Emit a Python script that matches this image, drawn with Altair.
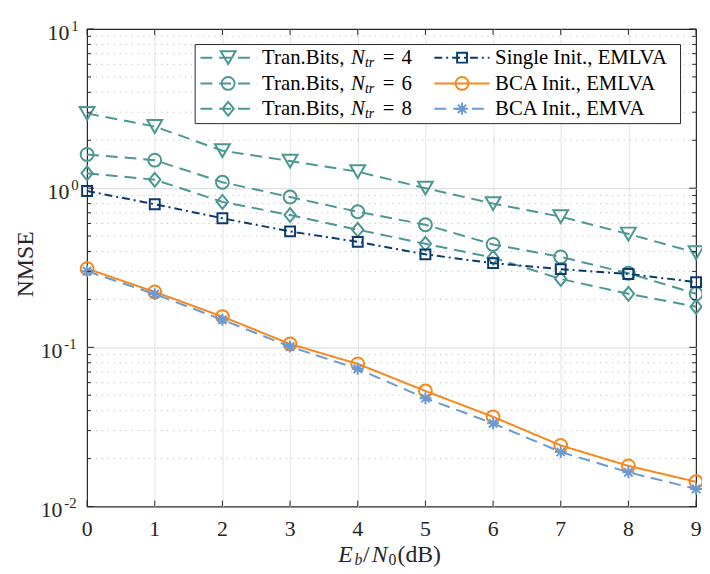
import altair as alt
import pandas as pd

# ---------------- data ----------------
snr = [0, 1, 2, 3, 4, 5, 6, 7, 8, 9]
nmse_tran4 = [2.95, 2.44, 1.72, 1.48, 1.27, 1.00, 0.80, 0.662, 0.515, 0.393]
nmse_tran6 = [1.63, 1.50, 1.09, 0.88, 0.711, 0.589, 0.443, 0.370, 0.292, 0.217]
nmse_tran8 = [1.24, 1.13, 0.82, 0.678, 0.548, 0.447, 0.366, 0.269, 0.217, 0.180]
nmse_single = [0.96, 0.793, 0.647, 0.535, 0.460, 0.384, 0.338, 0.310, 0.289, 0.257]
nmse_bca_emlva = [0.312, 0.223, 0.156, 0.105, 0.0787, 0.0532, 0.0366, 0.0242, 0.0180, 0.0143]
nmse_bca_emva = [0.301, 0.216, 0.149, 0.101, 0.0733, 0.0479, 0.0333, 0.0220, 0.0164, 0.0129]

ntr_values = ["4", "6", "8"]
right_labels = ["Single Init., EMLVA", "BCA Init., EMLVA", "BCA Init., EMVA"]
y_decades = [10, 1, 0.1, 0.01]
y_exps = ["1", "0", "-1", "-2"]

# ---------------- styles ----------------
W, H = 616, 483
FONT = "Liberation Serif"
AX = "#262626"
teal = "#4b9893"
navy = "#0b3b6d"
orange = "#f7871d"
lblue = "#6a9ad3"
ASTER = "M0,-1L0,1M-1,0L1,0M-0.7,-0.7L0.7,0.7M-0.7,0.7L0.7,-0.7"
DIAM = "M0,-1L0.82,0L0,1L-0.82,0Z"

styles = [
    (nmse_tran4, teal, [12, 7], "triangle-down", 225),
    (nmse_tran6, teal, [12, 7], "circle", 169),
    (nmse_tran8, teal, [12, 7], DIAM, 196),
    (nmse_single, navy, [8, 4, 2, 4], "square", 100),
    (nmse_bca_emlva, orange, [1, 0], "circle", 169),
    (nmse_bca_emva, lblue, [12, 7], ASTER, 144),
]

x_enc = alt.X("x:Q", scale=alt.Scale(domain=[0, 9], nice=False, zero=False),
              axis=alt.Axis(values=snr[1:-1], grid=True, gridColor="#e4e4e4", gridWidth=1,
                            labels=False, ticks=False, domain=False, title=None))
y_enc = alt.Y("y:Q", scale=alt.Scale(type="log", domain=[0.01, 10], nice=False),
              axis=alt.Axis(values=[1, 0.1], grid=True, gridColor="#e0e0e0", gridWidth=1.3,
                            labels=False, ticks=False, domain=False, title=None))

one = pd.DataFrame({"k": [0]})
layers = []

# minor grid
minors = [round(m * 10 ** e, 6) for e in (-2, -1, 0) for m in range(2, 10)]
df_minor = pd.DataFrame({"y": minors})
layers.append(alt.Chart(df_minor).mark_rule(color="#b5b5b5", strokeDash=[1, 5], strokeWidth=1)
              .encode(y=y_enc))
# base layer carrying x axis grid
layers.append(alt.Chart(pd.DataFrame({"x": snr})).mark_rule(opacity=0).encode(x=x_enc))

# data
for vals, col, dash, shape, size in styles:
    df = pd.DataFrame({"x": snr, "y": vals})
    layers.append(alt.Chart(df).mark_line(color=col, strokeDash=dash, strokeWidth=2)
                  .encode(x=x_enc, y=y_enc))
    layers.append(alt.Chart(df).mark_point(shape=shape, size=size, filled=False, color=col,
                                           strokeWidth=2, opacity=1)
                  .encode(x=x_enc, y=y_enc))

# ticks (inward)
df_x = pd.DataFrame({"x": snr})
df_major = pd.DataFrame({"y": y_decades})
layers.append(alt.Chart(df_x).mark_rule(color=AX, strokeWidth=1)
              .encode(x=x_enc, y=alt.value(H), y2=alt.value(H - 6)))
layers.append(alt.Chart(df_x).mark_rule(color=AX, strokeWidth=1)
              .encode(x=x_enc, y=alt.value(0), y2=alt.value(6)))
layers.append(alt.Chart(df_major).mark_rule(color=AX, strokeWidth=1)
              .encode(y=y_enc, x=alt.value(0), x2=alt.value(7)))
layers.append(alt.Chart(df_major).mark_rule(color=AX, strokeWidth=1)
              .encode(y=y_enc, x=alt.value(W - 7), x2=alt.value(W)))
layers.append(alt.Chart(df_minor).mark_rule(color=AX, strokeWidth=1)
              .encode(y=y_enc, x=alt.value(0), x2=alt.value(4)))
layers.append(alt.Chart(df_minor).mark_rule(color=AX, strokeWidth=1)
              .encode(y=y_enc, x=alt.value(W - 4), x2=alt.value(W)))

# x tick labels
layers.append(alt.Chart(df_x).mark_text(font=FONT, fontSize=22, color=AX, baseline="alphabetic",
                                        align="center")
              .encode(x=x_enc, y=alt.value(H + 30), text=alt.Text("x:Q", format="d")))

# y tick labels: "10" + exponent
df_pos = pd.DataFrame({"y": y_decades[:2], "b": ["10", "10"], "e": y_exps[:2]})
df_neg = pd.DataFrame({"y": y_decades[2:], "b": ["10", "10"], "e": y_exps[2:]})
for dfl, xb, xe in ((df_pos, -18, -16), (df_neg, -25, -23)):
    layers.append(alt.Chart(dfl).mark_text(font=FONT, fontSize=22, color=AX, align="right",
                                           baseline="alphabetic", dy=11)
                  .encode(y=y_enc, x=alt.value(xb), text="b:N"))
    layers.append(alt.Chart(dfl).mark_text(font=FONT, fontSize=15, color=AX, align="left",
                                           baseline="alphabetic", dy=2)
                  .encode(y=y_enc, x=alt.value(xe), text="e:N"))


def txt(s, x, y, size=21, style="normal", align="left", angle=0, color="black"):
    return alt.Chart(one).mark_text(text=s, font=FONT, fontSize=size, fontStyle=style,
                                    align=align, baseline="alphabetic", angle=angle,
                                    color=color).encode(x=alt.value(x), y=alt.value(y))


# axis titles
layers.append(txt("NMSE", -55, H / 2 - 3.5, size=24, align="center", angle=270, color=AX))
TY = H + 56
layers.append(txt("E", 254, TY, size=24, style="italic", color=AX))
layers.append(txt("b", 270.5, TY + 3, size=16, style="italic", color=AX))
layers.append(txt("/", 279, TY, size=24, color=AX))
layers.append(txt("N", 288, TY, size=24, style="italic", color=AX))
layers.append(txt("0", 305, TY + 3, size=16, color=AX))
layers.append(txt("(dB)", 314, TY, size=24, color=AX))

# legend
layers.append(alt.Chart(one).mark_rect(fill="white", stroke=AX, strokeWidth=1)
              .encode(x=alt.value(109.3), x2=alt.value(600.3), y=alt.value(15.7), y2=alt.value(95.7)))
row_y = [29, 55, 80.7]


def leg_symbol(x1, x2, xm, y, st):
    vals, col, dash, shape, size = st
    return [
        alt.Chart(one).mark_rule(color=col, strokeDash=dash, strokeWidth=2)
        .encode(x=alt.value(x1), x2=alt.value(x2), y=alt.value(y)),
        alt.Chart(one).mark_point(shape=shape, size=size, filled=False, color=col,
                                  strokeWidth=2, opacity=1)
        .encode(x=alt.value(xm), y=alt.value(y)),
    ]


for i in range(3):
    yc = row_y[i]
    layers += leg_symbol(114.7, 172, 142.7, yc, styles[i])
    layers.append(txt("Tran.Bits,", 177, yc + 6.7))
    layers.append(txt("N", 267, yc + 6.7, style="italic"))
    layers.append(txt("tr", 281, yc + 9.5, size=14, style="italic"))
    layers.append(txt("=", 299, yc + 6.7))
    layers.append(txt(ntr_values[i], 318, yc + 6.7))
    layers += leg_symbol(351.3, 407, 379.3, yc, styles[3 + i])
    layers.append(txt(right_labels[i], 412.7, yc + 6.7))

chart = alt.layer(*layers).properties(
    width=W, height=H,
    autosize=alt.AutoSizeParams(type="none"),
    padding={"left": 80, "top": 18, "right": 6, "bottom": 64},
    background="white",
).configure_view(stroke=AX, strokeWidth=1.2)

chart.save("out.html", embed_options={"renderer": "svg", "actions": False})
